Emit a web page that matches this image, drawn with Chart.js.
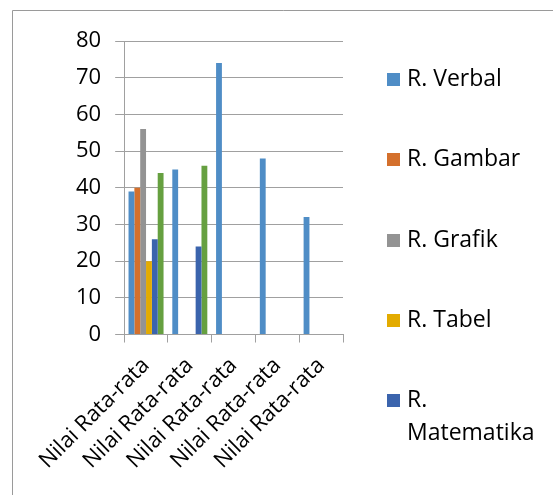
<!DOCTYPE html>
<html>
<head>
<meta charset="utf-8">
<script src="https://cdn.jsdelivr.net/npm/chart.js@4/dist/chart.umd.min.js"></script>
<style>
 html, body { margin: 0; padding: 0; background: #fff; }
 #wrap { width: 553px; height: 495px; position: relative; }
</style>
</head>
<body>
<div id="wrap"><canvas id="nilai-chart"></canvas></div>
<script>
var categories = [
 "Nilai Rata-rata",
 "Nilai Rata-rata",
 "Nilai Rata-rata",
 "Nilai Rata-rata",
 "Nilai Rata-rata",
];

var seriesNames = ["R. Verbal", "R. Gambar", "R. Grafik", "R. Tabel", "R. Matematika", "R. Lainnya"];

var verbal = [39, 45, 74, 48, 32];
var gambar = [40, null, null, null, null];
var grafik = [56, null, null, null, null];
var tabel = [20, null, null, null, null];
var matematika = [26, 24, null, null, null];
var lainnya = [44, 46, null, null, null]; // 6th series, its legend entry is cut off in the original

var yTicks = [0, 10, 20, 30, 40, 50, 60, 70, 80];

var seriesColors = [
 "#4F8DC6", // blue
 "#D4702C", // orange
 "#939393", // gray
 "#E3AB00", // gold
 "#3B64AD", // dark blue
 "#66A040", // green
];

var legendCount = 5; // only the first five fit in the legend box

var fontFamily = "'Open Sans', 'Liberation Sans', sans-serif";

// legend on the right + outer frame, drawn by hand (Excel style spacing)
var sideLegend = {
 id: "sideLegend",
 beforeDraw: function (chart) {
  var ctx = chart.ctx;
  ctx.save();
  ctx.strokeStyle = "#9a9a9a";
  ctx.lineWidth = 1;
  ctx.beginPath();
  ctx.moveTo(12.5, 600);
  ctx.lineTo(12.5, 10.5);
  ctx.lineTo(600, 10.5);
  ctx.stroke();
  ctx.restore();
 },
 afterDraw: function (chart) {
  var ctx = chart.ctx;
  ctx.save();
  ctx.font = "23px " + fontFamily;
  ctx.textBaseline = "middle";
  ctx.fillStyle = "#000";
  var rows = [79, 159, 240, 320, 400];
  for (var i = 0; i < legendCount; i++) {
   var y = rows[i];
   ctx.fillStyle = seriesColors[i];
   ctx.fillRect(387, y - 6, 13, 13);
   ctx.fillStyle = "#000";
   var parts = seriesNames[i].split(" ");
   if (seriesNames[i].length > 10) {
    ctx.fillText(parts[0], 407, y);
    ctx.fillText(parts.slice(1).join(" "), 407, y + 33);
   } else {
    ctx.fillText(seriesNames[i], 407, y);
   }
  }
  ctx.restore();
 },
};

var seriesData = [verbal, gambar, grafik, tabel, matematika, lainnya];

var datasets = seriesData.map(function (d, i) {
 return {
  label: seriesNames[i],
  data: d,
  backgroundColor: seriesColors[i],
  categoryPercentage: 0.8,
  barPercentage: 1.0,
 };
});

var ctx = document.getElementById("nilai-chart");

new Chart(ctx, {
 type: "bar",
 data: {
  labels: categories,
  datasets: datasets,
 },
 plugins: [sideLegend],
 options: {
  responsive: true,
  maintainAspectRatio: false,
  animation: false,
  layout: {
   padding: { left: 62, right: 210, top: 41, bottom: 11 },
  },
  plugins: {
   legend: { display: false },
   tooltip: { enabled: false },
  },
  scales: {
   x: {
    grid: {
     offset: true,
     drawOnChartArea: false,
     color: "#a0a0a0",
     tickLength: 8,
    },
    border: { color: "#a0a0a0" },
    ticks: {
     color: "#000",
     font: { family: fontFamily, size: 22 },
     minRotation: 45,
     maxRotation: 45,
     padding: 10,
    },
   },
   y: {
    min: 0,
    max: 80,
    afterBuildTicks: function (axis) {
     axis.ticks = yTicks.map(function (v) {
      return { value: v };
     });
    },
    grid: {
     color: "#a0a0a0",
     tickLength: 9,
    },
    border: { color: "#a0a0a0" },
    ticks: {
     color: "#000",
     font: { family: fontFamily, size: 22 },
     padding: 14,
    },
   },
  },
 },
});
</script>
</body>
</html>
